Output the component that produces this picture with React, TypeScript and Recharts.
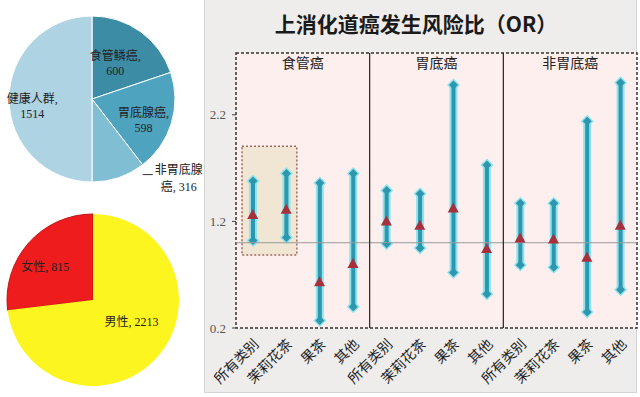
import { PieChart, Pie, Cell, ComposedChart, Bar, Scatter, XAxis, YAxis, ReferenceLine, ReferenceArea, CartesianGrid } from 'recharts';

// study population by group
const groupNames = ['食管鳞癌', '胃底腺癌', '非胃底腺癌', '健康人群'];
const groupCounts = [600, 598, 316, 1514];
const groupColors = ['#3d8ca5', '#4ea3bf', '#80bed4', '#aed3e2'];

// study population by sex
const sexNames = ['女性', '男性'];
const sexCounts = [815, 2213];
const sexColors = ['#ee1c1c', '#fdf51f'];

// odds ratios with 95% CI, 4 tea types per cancer type
const cancerTypes = ['食管癌', '胃底癌', '非胃底癌'];
const teaTypes = ['所有类别', '茉莉花茶', '果茶', '其他'];
const orLow = [1.02, 1.05, 0.27, 0.4, 0.99, 0.95, 0.72, 0.52, 0.79, 0.77, 0.35, 0.56];
const orMid = [1.26, 1.31, 0.63, 0.8, 1.2, 1.16, 1.32, 0.94, 1.04, 1.03, 0.86, 1.16];
const orHigh = [1.58, 1.65, 1.56, 1.65, 1.49, 1.46, 2.48, 1.73, 1.37, 1.37, 2.14, 2.5];

const groupData = groupNames.map((name, i) => ({ name, value: groupCounts[i] }));
const sexData = sexNames.map((name, i) => ({ name, value: sexCounts[i] }));
const orData = orMid.map((mid, i) => ({
  key: `${cancerTypes[Math.floor(i / 4)]}-${teaTypes[i % 4]}`,
  range: [orLow[i], orHigh[i]],
  mid,
}));

const labelFont = "'Liberation Serif', 'Noto Sans CJK SC', serif";
const RAD = Math.PI / 180;

// label placement tweaks: radius factor, extra x/y nudge
const groupLabelPos = [[0.52, -2, 0], [0.65, 0, 6], [1.0, 60, 0], [0.72, 0, 8]];
const sexLabelPos = [[0.68, -4, 6], [0.6, 0, -12]];

const renderGroupLabel = (p: any) => {
  const { cx, cy, midAngle, outerRadius, index } = p;
  const [k, dx, dy] = groupLabelPos[index];
  const x = cx + outerRadius * k * Math.cos(-midAngle * RAD) + dx;
  const y = cy + outerRadius * k * Math.sin(-midAngle * RAD) + dy;
  const name = groupNames[index];
  const value = groupCounts[index];
  if (index === 2) {
    // small slice: label outside with a short leader line
    return (
      <g>
        <line x1={x - 36} x2={x - 26} y1={y - 3} y2={y - 3} stroke="#333" strokeWidth={1} />
        <text x={x} y={y - 4} textAnchor="middle" fontSize={12} fill="#222" fontFamily={labelFont}>{name.slice(0, 4)}</text>
        <text x={x} y={y + 13} textAnchor="middle" fontSize={12} fill="#222" fontFamily={labelFont}>{`${name.slice(4)}, ${value}`}</text>
      </g>
    );
  }
  return (
    <g>
      <text x={x} y={y - 4} textAnchor="middle" fontSize={12} fill="#222" fontFamily={labelFont}>{`${name},`}</text>
      <text x={x} y={y + 11} textAnchor="middle" fontSize={12} fill="#222" fontFamily={labelFont}>{value}</text>
    </g>
  );
};

const renderSexLabel = (p: any) => {
  const { cx, cy, midAngle, outerRadius, index } = p;
  const [k, dx, dy] = sexLabelPos[index];
  const x = cx + outerRadius * k * Math.cos(-midAngle * RAD) + dx;
  const y = cy + outerRadius * k * Math.sin(-midAngle * RAD) + dy;
  return (
    <text x={x} y={y} textAnchor="middle" dominantBaseline="central" fontSize={12} fill="#222" fontFamily={labelFont}>
      {`${sexNames[index]}, ${sexCounts[index]}`}
    </text>
  );
};

// CI line with diamond ends
const RangeShape = (props: any) => {
  const { x, y, width, height } = props;
  const cx = x + width / 2;
  const top = Math.min(y, y + height);
  const bottom = Math.max(y, y + height);
  const diamond = (cy: number, r: number) => `M${cx},${cy - r} L${cx + r},${cy} L${cx},${cy + r} L${cx - r},${cy} Z`;
  return (
    <g>
      <line x1={cx} x2={cx} y1={top} y2={bottom} stroke="#8fe3ee" strokeWidth={8} />
      <path d={diamond(top, 6.5)} fill="#8fe3ee" />
      <path d={diamond(bottom, 6.5)} fill="#8fe3ee" />
      <line x1={cx} x2={cx} y1={top} y2={bottom} stroke="#2f97ad" strokeWidth={4} />
      <path d={diamond(top, 4.5)} fill="#2f97ad" />
      <path d={diamond(bottom, 4.5)} fill="#2f97ad" />
    </g>
  );
};

const TriangleShape = (props: any) => {
  const { cx, cy } = props;
  return <path d={`M${cx},${cy - 6} L${cx + 5.5},${cy + 4} L${cx - 5.5},${cy + 4} Z`} fill="#a8303d" />;
};

const TeaTick = (props: any) => {
  const { x, y, payload } = props;
  const ax = x + 7;
  const ay = y + 9;
  return (
    <text x={ax} y={ay} transform={`rotate(-45 ${ax} ${ay})`} textAnchor="end" fontSize={14} fill="#1e1e1e" fontFamily="'Noto Sans CJK SC', sans-serif">
      {String(payload.value).split('-')[1]}
    </text>
  );
};

export default function App() {
  return (
    <div style={{ position: 'absolute', left: 0, top: 0, width: 640, height: 397, background: '#fff' }}>
      <div style={{ position: 'absolute', left: 0, top: 0 }}>
        <PieChart width={204} height={397}>
          <Pie data={groupData} dataKey="value" nameKey="name" cx={87} cy={94} outerRadius={83} startAngle={90} endAngle={-270}
            stroke="#fff" strokeWidth={1} label={renderGroupLabel} labelLine={false} isAnimationActive={false}>
            {groupData.map((d, i) => <Cell key={d.name} fill={groupColors[i]} />)}
          </Pie>
          <Pie data={sexData} dataKey="value" nameKey="name" cx={88} cy={295} outerRadius={86} startAngle={90} endAngle={450}
            stroke="none" label={renderSexLabel} labelLine={false} isAnimationActive={false}>
            {sexData.map((d, i) => <Cell key={d.name} fill={sexColors[i]} stroke={i === 0 ? '#c21414' : 'none'} />)}
          </Pie>
        </PieChart>
      </div>
      <div style={{ position: 'absolute', left: 204, top: 0, width: 431, height: 392, background: '#eeedeb', borderLeft: '1px solid #d4d4d4', borderRight: '1px solid #d4d4d4', borderBottom: '1px solid #d4d4d4' }} />
      <div style={{ position: 'absolute', left: 205, top: 8, width: 422, textAlign: 'center', fontFamily: "'Noto Sans CJK SC', sans-serif", fontWeight: 'bold', fontSize: 21, color: '#1a1a1a', lineHeight: '30px' }}>
        上消化道癌发生风险比（OR）
      </div>
      <div style={{ position: 'absolute', left: 204, top: 0 }}>
        <ComposedChart width={436} height={397} data={orData} margin={{ top: 53, right: 3, bottom: 0, left: 0 }}>
          <CartesianGrid horizontal={false} vertical={false} fill="#fcefee" />
          <XAxis dataKey="key" interval={0} tickLine={false} axisLine={false} height={69} tick={<TeaTick />} />
          <YAxis type="number" domain={[0.2, 2.78]} ticks={[0.2, 1.2, 2.2]} width={32} allowDataOverflow axisLine={false}
            tickLine={{ stroke: '#444' }} tickSize={4} tickMargin={6}
            tick={{ fill: '#555', fontSize: 13, fontFamily: "'Liberation Serif', serif" }} />
          <ReferenceArea x1={orData[0].key} x2={orData[1].key} y1={0.885} y2={1.904}
            shape={(p: any) => (
              <rect x={p.x + 6} y={p.y} width={p.width - 12} height={p.height} fill="#f0e6d3" stroke="#9b6a5c" strokeWidth={1.5} strokeDasharray="2 2" />
            )} />
          <ReferenceLine y={1} stroke="#9a9a9a" strokeWidth={1} />
          {cancerTypes.slice(1).map((c) => (
            <ReferenceLine key={c} x={`${c}-${teaTypes[0]}`} position="start" stroke="#222" strokeWidth={1.2} />
          ))}
          {cancerTypes.map((c) => (
            <ReferenceArea key={c} x1={`${c}-${teaTypes[0]}`} x2={`${c}-${teaTypes[3]}`} fill="none" stroke="none"
              label={{ value: c, position: 'insideTop', offset: 5, fill: '#222', fontSize: 14, fontFamily: "'Noto Sans CJK SC', sans-serif" }} />
          ))}
          <Bar dataKey="range" barSize={8} shape={<RangeShape />} isAnimationActive={false} />
          <Scatter dataKey="mid" shape={<TriangleShape />} isAnimationActive={false} />
          <ReferenceArea y1={0.2} y2={2.78} fill="none" stroke="#333" strokeWidth={1.5} strokeDasharray="3 2" />
        </ComposedChart>
      </div>
    </div>
  );
}
